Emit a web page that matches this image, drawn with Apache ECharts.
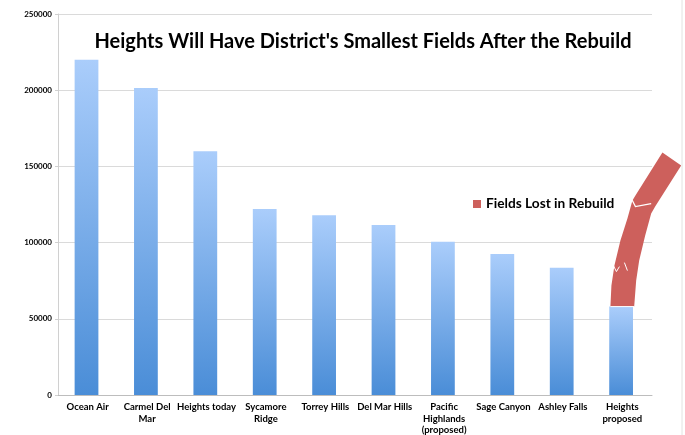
<!DOCTYPE html>
<html>
<head>
<meta charset="utf-8">
<script src="https://cdn.jsdelivr.net/npm/echarts@6/dist/echarts.min.js"></script>
<style>html,body{margin:0;padding:0;background:#fff;overflow:hidden}#c{width:685px;height:435px}</style>
</head>
<body>
<div id="c"></div>
<script>
var titleText = "Heights Will Have District's Smallest Fields After the Rebuild";
var categories = ["Ocean Air", "Carmel Del\nMar", "Heights today", "Sycamore\nRidge", "Torrey Hills", "Del Mar Hills", "Pacific\nHighlands\n(proposed)", "Sage Canyon", "Ashley Falls", "Heights\nproposed"];
var fieldValues = [220000, 201500, 160000, 122000, 118000, 111500, 100500, 92500, 83500, 58000];
var yTicks = [0, 50000, 100000, 150000, 200000, 250000];
var lostLabel = "Fields Lost in Rebuild";

var FONT = "Lato, 'Open Sans', sans-serif";
var RED = "#cd605c";
var chart = echarts.init(document.getElementById('c'), null, {renderer: 'canvas', width: 685, height: 435});
var option = {
  animation: false,
  backgroundColor: '#fff',
  title: {
    text: titleText,
    left: 358, textAlign: 'center', top: 27,
    textStyle: {fontFamily: FONT, fontWeight: 'bold', fontSize: 20, color: '#000'}
  },
  legend: {
    data: [{name: lostLabel, icon: 'rect'}],
    left: 468, top: 192,
    itemWidth: 8, itemHeight: 8, itemGap: 3,
    textStyle: {fontFamily: FONT, fontWeight: 'bold', fontSize: 13.7, color: '#000'}
  },
  grid: {left: 58, right: 33, top: 14, bottom: 40, outerBoundsMode: 'none', containLabel: false},
  xAxis: {
    type: 'category',
    data: categories,
    axisLine: {lineStyle: {color: '#bdbdbd'}},
    axisTick: {length: 4, lineStyle: {color: '#bdbdbd'}},
    axisLabel: {interval: 0, margin: 6.5, fontFamily: FONT, fontWeight: 'bold', fontSize: 9.5, lineHeight: 11.5, color: '#000'}
  },
  yAxis: {
    type: 'value',
    min: yTicks[0], max: yTicks[yTicks.length - 1], interval: yTicks[1] - yTicks[0],
    axisLine: {show: true, lineStyle: {color: '#d0d0d0'}},
    axisTick: {show: true, length: 3, lineStyle: {color: '#d0d0d0'}},
    splitLine: {lineStyle: {color: '#dadada'}},
    axisLabel: {margin: 6, fontFamily: FONT, fontWeight: 'bold', fontSize: 8, color: '#000',
      formatter: function (v) { return String(v); }}
  },
  series: [
    {
      name: 'Fields',
      type: 'bar',
      data: fieldValues,
      barWidth: '40%',
      itemStyle: {color: new echarts.graphic.LinearGradient(0, 0, 0, 1, [
        {offset: 0, color: '#aacdfb'},
        {offset: 1, color: '#4a8dd7'}
      ])}
    },
    {
      name: lostLabel,
      type: 'bar',
      data: [],
      itemStyle: {color: RED}
    }
  ]
};
chart.setOption(option);

// Annotation arrow anchored at the top of the last bar
var lastIdx = fieldValues.length - 1;
var barTop = chart.convertToPixel({xAxisIndex: 0, yAxisIndex: 0}, [lastIdx, fieldValues[lastIdx]]);
var c0 = chart.convertToPixel({xAxisIndex: 0, yAxisIndex: 0}, [0, 0]);
var c1 = chart.convertToPixel({xAxisIndex: 0, yAxisIndex: 0}, [1, 0]);
var hw = (c1[0] - c0[0]) * 0.4 / 2;
var cx = barTop[0], cy = barTop[1];
function P(dx, dy) { return [cx + dx, cy + dy]; }
var shape = [
  P(-hw, 0), P(-hw + 1, -21), P(-hw + 4, -41), P(-hw + 10, -66), P(-hw + 17, -88), P(-hw + 22, -106),
  P(-hw + 25, -111), P(-hw + 52, -154),
  P(hw + 47, -141),
  P(hw + 21, -100), P(hw + 17, -93), P(hw + 11, -71), P(hw + 5, -46), P(hw + 2, -26), P(hw, 0)
];
chart.setOption({
  graphic: [
    {type: 'line', shape: {x1: 682, y1: 0, x2: 682, y2: 435}, style: {stroke: '#e2e2e2', lineWidth: 1}, z: 1},
    {type: 'polygon', shape: {points: shape}, style: {fill: RED}, z: 100},
    {type: 'polyline', shape: {points: [P(-hw + 3, -41), P(-hw + 6, -35), P(-hw + 9, -40)]}, style: {stroke: '#fff', lineWidth: 1, fill: null}, z: 101},
    {type: 'polyline', shape: {points: [P(-hw + 14, -44), P(-hw + 17, -36)]}, style: {stroke: '#fff', lineWidth: 1, fill: null}, z: 101},
    {type: 'polyline', shape: {points: [P(-hw + 21, -108), P(-hw + 25, -100), P(hw + 17, -103)]}, style: {stroke: '#fff', lineWidth: 1.2, fill: null}, z: 101},
    {type: 'line', shape: {x1: cx - hw, y1: cy, x2: cx + hw, y2: cy}, style: {stroke: '#fff', lineWidth: 1}, z: 101}
  ]
});
</script>
</body>
</html>
